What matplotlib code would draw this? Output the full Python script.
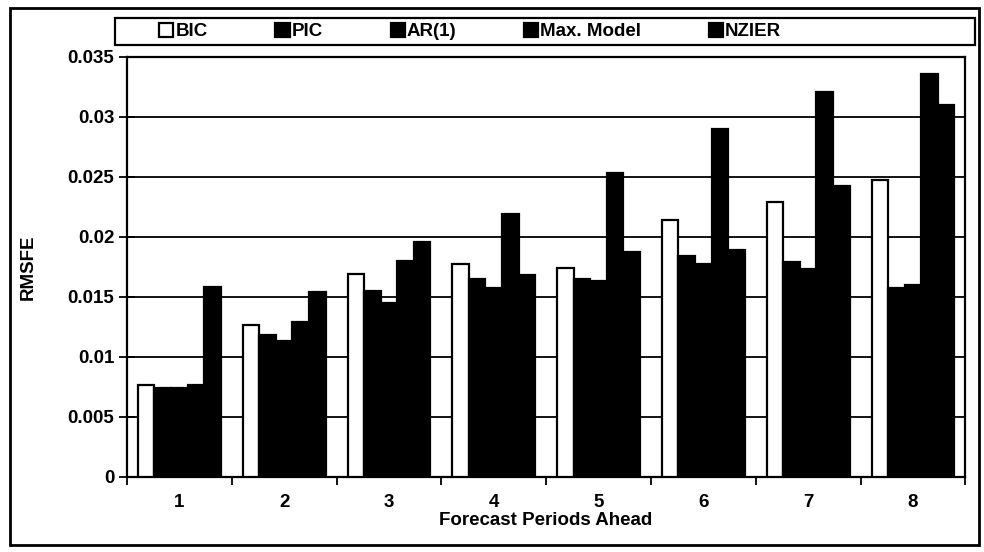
import matplotlib
matplotlib.use("Agg")
import matplotlib.pyplot as plt
import numpy as np
from matplotlib.patches import Rectangle

plt.rcParams['font.family'] = ['Liberation Sans', 'DejaVu Sans']
plt.rcParams['font.weight'] = 'bold'

periods = ['1', '2', '3', '4', '5', '6', '7', '8']
series_names = ['BIC', 'PIC', 'AR(1)', 'Max. Model', 'NZIER']
bic = [0.0077, 0.0127, 0.0169, 0.0177, 0.0174, 0.0214, 0.0229, 0.0247]
pic = [0.0074, 0.0118, 0.0155, 0.0165, 0.0165, 0.0184, 0.0179, 0.0157]
ar1 = [0.0074, 0.0113, 0.0145, 0.0157, 0.0163, 0.0177, 0.0173, 0.0160]
maxm = [0.0077, 0.0129, 0.0180, 0.0219, 0.0253, 0.0290, 0.0321, 0.0336]
nzier = [0.0158, 0.0154, 0.0196, 0.0168, 0.0187, 0.0189, 0.0242, 0.0310]
yticks = [0, 0.005, 0.01, 0.015, 0.02, 0.025, 0.03, 0.035]
ytick_labels = ['0', '0.005', '0.01', '0.015', '0.02', '0.025', '0.03', '0.035']

series = [bic, pic, ar1, maxm, nzier]
faces = ['white', 'black', 'black', 'black', 'black']

FS = 13.5
fig = plt.figure(figsize=(9.84, 5.52), dpi=100)
ax = fig.add_axes([0.129, 0.136, 0.852, 0.761])

x = np.arange(len(periods))
w = 0.158
handles = []
for k, (vals, fc) in enumerate(zip(series, faces)):
    b = ax.bar(x + (k - 2) * w, vals, width=w, facecolor=fc, edgecolor='black',
               linewidth=1.6, zorder=3, label=series_names[k])
    handles.append(b)

ax.set_xlim(-0.5, len(periods) - 0.5)
ax.set_ylim(0, 0.035)
ax.set_yticks(yticks)
ax.set_yticklabels(ytick_labels, fontsize=FS, fontweight='bold')
ax.yaxis.grid(True, color='black', linewidth=1.3, zorder=0)
ax.set_axisbelow(True)

ax.set_xticks(np.arange(-0.5, len(periods), 1.0))
ax.set_xticklabels([])
ax.set_xticks(x, minor=True)
ax.set_xticklabels(periods, minor=True, fontsize=FS, fontweight='bold')
ax.tick_params(axis='x', which='major', direction='out', length=6, width=1.3)
ax.tick_params(axis='x', which='minor', length=0, pad=12)
ax.tick_params(axis='y', direction='inout', length=12, width=1.3, pad=3)

for s in ax.spines.values():
    s.set_linewidth(1.6)

ax.set_ylabel('RMSFE', fontsize=FS, fontweight='heavy')
ax.yaxis.set_label_coords(-0.108, 0.5)
ax.set_xlabel('Forecast Periods Ahead', fontsize=FS, fontweight='bold', labelpad=1)

leg = fig.legend(handles=handles, labels=series_names, loc='center left',
                 bbox_to_anchor=(0.162, 0.9425), ncol=5, fontsize=FS,
                 frameon=False, handlelength=0.75, handleheight=0.75,
                 handletextpad=0.12, columnspacing=3.6, borderaxespad=0,
                 borderpad=0)
for t in leg.get_texts():
    t.set_fontweight('bold')

fig.patches.append(Rectangle((0.117, 0.918), 0.874, 0.049, transform=fig.transFigure,
                             fill=False, edgecolor='black', linewidth=1.6))
fig.patches.append(Rectangle((0.010, 0.013), 0.985, 0.973, transform=fig.transFigure,
                             fill=False, edgecolor='black', linewidth=2))

fig.savefig('out.png', dpi=100)
